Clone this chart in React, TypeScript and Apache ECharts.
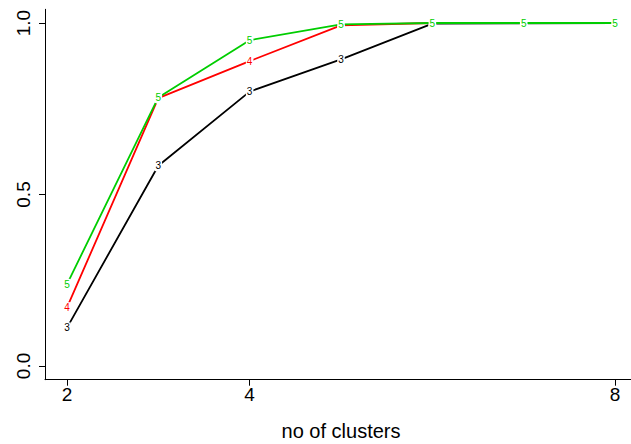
import React, { useEffect, useRef } from "react";
import * as echarts from "echarts";

const clusters = [2, 3, 4, 5, 6, 7, 8];
const series3 = [0.111, 0.584, 0.8, 0.894, 0.998, 0.999, 1.0];
const series4 = [0.17, 0.781, 0.889, 0.993, 1.0, 1.0, 1.0];
const series5 = [0.238, 0.783, 0.95, 0.996, 1.0, 1.0, 1.0];
const seriesNames = ["3", "4", "5"];
const seriesColors = ["#000000", "#FF0000", "#00CD00"];
const xTicks = [2, 4, 8];
const yTicks = [0, 0.5, 1];

const FONT = "Liberation Sans, Arial, Helvetica, sans-serif";

export default function App() {
  const ref = useRef<HTMLDivElement>(null);
  useEffect(() => {
    if (!ref.current) return;
    const chart = echarts.init(ref.current, undefined, { renderer: "svg" });
    const all = [series3, series4, series5];
    const option: any = {
      animation: false,
      backgroundColor: "#ffffff",
      grid: {
        left: 45,
        right: -6,
        top: 9.3,
        bottom: 64.3,
        containLabel: false,
        outerBoundsMode: "none",
      },
      xAxis: {
        type: "value",
        min: 1.76,
        max: 8.24,
        name: "no of clusters",
        nameLocation: "middle",
        nameGap: 41,
        nameTextStyle: { color: "#000", fontSize: 20, fontFamily: FONT },
        axisLine: { show: true, onZero: false, lineStyle: { color: "#000", width: 1 } },
        axisTick: { show: true, customValues: xTicks, length: 6, lineStyle: { color: "#000" } },
        axisLabel: {
          customValues: xTicks,
          color: "#000",
          fontSize: 19,
          fontFamily: FONT,
          margin: 5,
          formatter: (v: number) => String(v),
        },
        splitLine: { show: false },
      },
      yAxis: {
        type: "value",
        min: -0.04,
        max: 1.04,
        axisLine: { show: true, onZero: false, lineStyle: { color: "#000", width: 1 } },
        axisTick: { show: true, customValues: yTicks, length: 6, lineStyle: { color: "#000" } },
        axisLabel: {
          customValues: yTicks,
          color: "#000",
          fontSize: 19,
          fontFamily: FONT,
          rotate: 90,
          margin: 12,
          formatter: (v: number) => v.toFixed(1),
        },
        splitLine: { show: false },
      },
      series: all.map((vals, i) => ({
        type: "line",
        name: seriesNames[i],
        data: clusters.map((x, j) => [x, vals[j]]),
        symbol: "circle",
        symbolSize: 1,
        showSymbol: true,
        itemStyle: { color: seriesColors[i] },
        lineStyle: { color: seriesColors[i], width: 1.8 },
        z: 2 + i,
        label: {
          show: true,
          position: "inside",
          formatter: () => seriesNames[i],
          color: seriesColors[i],
          fontSize: 10,
          fontFamily: FONT,
          backgroundColor: "#ffffff",
          padding: [1, 1, 0, 1],
        },
      })),
    };
    chart.setOption(option);
    return () => chart.dispose();
  }, []);
  return (
    <div
      ref={ref}
      style={{ position: "fixed", left: 0, top: 0, width: 631, height: 444 }}
    />
  );
}
